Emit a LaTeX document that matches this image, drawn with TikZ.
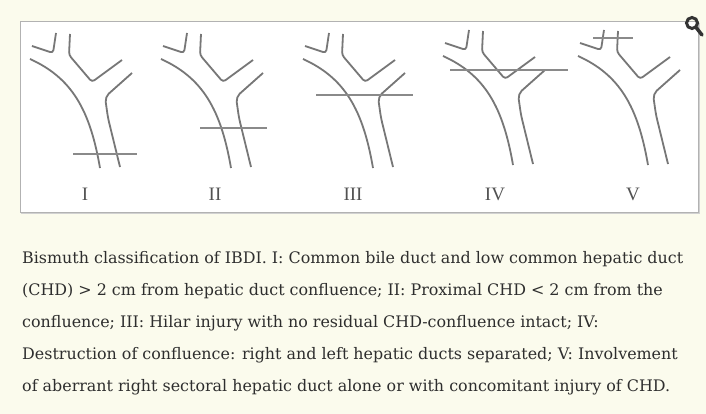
\documentclass[tikz,border=0pt]{standalone}
\usepackage{fontspec}
\setmainfont{DejaVu Serif}
\newfontfamily\numfont{Liberation Serif}
\definecolor{paper}{HTML}{FBFBED}
\definecolor{ductgray}{HTML}{777777}
\definecolor{cutgray}{HTML}{8A8A8A}
\definecolor{captext}{HTML}{2E2E2E}
\begin{document}
\begin{tikzpicture}[x=1pt, y=-1pt,
    duct/.style={line width=1.8pt, draw=ductgray, rounded corners=3pt},
    cut/.style={line width=1.7pt, draw=cutgray},
    typelabel/.style={font=\numfont\fontsize{19}{19}\selectfont, text=black!68, inner sep=0pt},
    caption/.style={anchor=base west, inner sep=0pt, text=captext,
      font=\fontsize{15.9}{18}\selectfont}]
  \fill[paper] (0,0) rectangle (706,414);
  \useasboundingbox (0,0) rectangle (706,414);

  % framed panel with a soft shadow
  \fill[black!18] (21,23) rectangle (700,214);
  \fill[white, draw=black!30, line width=1pt] (20,22) rectangle (698,212);

  % zoom glass in the corner
  \draw[black!80, line width=3pt] (692,23) circle (5.5);
  \draw[black!80, line width=3.5pt, line cap=round] (696.5,28) -- (702,35);

  % the same duct tree five times
  \foreach \x/\dy in {32/0, 163/0, 305/0, 445/-3, 580/-3}{
    \begin{scope}[shift={(\x,\dy)}]
      \draw[duct] (0,46) -- (21,53) -- (24,33);
      \draw[duct] (38,34) -- (37,55) -- (60,82) -- (90,60);
      \draw[duct] (-2,59) .. controls (40,78) and (58,110) .. (68,168);
      \draw[duct, rounded corners=5pt] (100,73) -- (73,97) -- (76,118) -- (88,167);
    \end{scope}
  }

  % level of injury for each type
  \draw[cut] (73,154) -- (137,154);
  \draw[cut] (200,128) -- (267,128);
  \draw[cut] (316,95) -- (413,95);
  \draw[cut] (450,70) -- (568,70);
  \draw[cut] (593,38) -- (633,38);

  \node[typelabel] (typeI) at (85,194) {I};
  \node[typelabel] (typeII) at (215,194) {II};
  \node[typelabel] (typeIII) at (353,194) {III};
  \node[typelabel] (typeIV) at (495,194) {IV};
  \node[typelabel] (typeV) at (633,194) {V};

  \node[caption] (line1) at (22,263) {Bismuth classification of IBDI. I: Common bile duct and low common hepatic duct};
  \node[caption] (line2) at (22,295) {(CHD) > 2 cm from hepatic duct confluence; II: Proximal CHD < 2 cm from the};
  \node[caption] (line3) at (22,327) {confluence; III: Hilar injury with no residual CHD-confluence intact; IV:};
  \node[caption] (line4) at (22,359) {Destruction of confluence: right and left hepatic ducts separated; V: Involvement};
  \node[caption] (line5) at (22,391) {of aberrant right sectoral hepatic duct alone or with concomitant injury of CHD.};
\end{tikzpicture}
\end{document}
